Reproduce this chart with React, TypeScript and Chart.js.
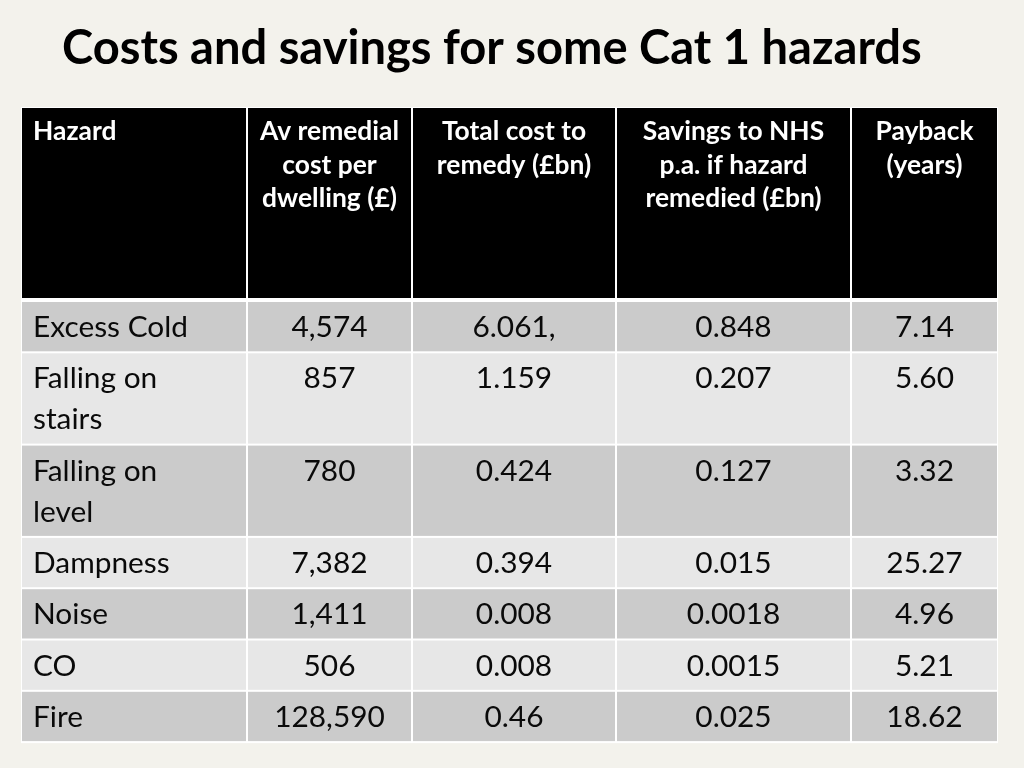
import React, { useEffect, useRef } from "react";
import { Chart, registerables } from "chart.js";

Chart.register(...registerables);

const title = "Costs and savings for some Cat 1 hazards";
const headers = [
  "Hazard",
  "Av remedial\ncost per\ndwelling (£)",
  "Total cost to\nremedy (£bn)",
  "Savings to NHS\np.a. if hazard\nremedied (£bn)",
  "Payback\n(years)",
];
const hazards = [
  "Excess Cold",
  "Falling on stairs",
  "Falling on level",
  "Dampness",
  "Noise",
  "CO",
  "Fire",
];
const avRemedialCost = ["4,574", "857", "780", "7,382", "1,411", "506", "128,590"];
const totalCost = ["6.061,", "1.159", "0.424", "0.394", "0.008", "0.008", "0.46"];
const nhsSavings = ["0.848", "0.207", "0.127", "0.015", "0.0018", "0.0015", "0.025"];
const payback = ["7.14", "5.60", "3.32", "25.27", "4.96", "5.21", "18.62"];

const FONT = "Lato, 'Open Sans', 'DejaVu Sans', sans-serif";
const BG = "#f3f2ec";
const colEdges = [22, 247, 412, 616, 851, 997];
const tableTop = 107;
const headerBottom = 300;

function fitSize(ctx: CanvasRenderingContext2D, text: string, weight: string, target: number) {
  ctx.font = `${weight} 100px ${FONT}`;
  const w = ctx.measureText(text).width;
  return (100 * target) / w;
}

function wrap(ctx: CanvasRenderingContext2D, text: string, maxW: number) {
  const words = text.split(" ");
  const lines: string[] = [];
  let cur = "";
  for (const w of words) {
    const t = cur ? cur + " " + w : w;
    if (cur && ctx.measureText(t).width > maxW) {
      lines.push(cur);
      cur = w;
    } else cur = t;
  }
  if (cur) lines.push(cur);
  return lines;
}

const tablePlugin = {
  id: "tablePlugin",
  afterDraw(chart: any) {
    const ctx: CanvasRenderingContext2D = chart.ctx;
    const ox = chart.chartArea.left;
    const oy = chart.chartArea.top;
    ctx.save();
    ctx.translate(ox, oy);

    // title
    const ts = fitSize(ctx, title, "bold", 860);
    ctx.font = `bold ${ts}px ${FONT}`;
    ctx.fillStyle = "#000";
    ctx.textBaseline = "alphabetic";
    ctx.textAlign = "left";
    ctx.fillText(title, 62, 64);

    const hs = fitSize(ctx, "Av remedial", "bold", 139);
    const bs = fitSize(ctx, "Excess Cold", "normal", 155);

    // rows
    ctx.font = `${bs}px ${FONT}`;
    const cols = [hazards, avRemedialCost, totalCost, nhsSavings, payback];
    const hazardLines = hazards.map((h) => wrap(ctx, h, 180));
    const rowH = hazardLines.map((l) => 10.3 + 41 * l.length);
    const tableBottom = headerBottom + 1 + rowH.reduce((a, b) => a + b, 0);

    // white background of grid
    ctx.fillStyle = "#ffffff";
    ctx.fillRect(colEdges[0] - 1, tableTop, colEdges[5] - colEdges[0] + 2, tableBottom - tableTop + 1);

    // header
    for (let c = 0; c < 5; c++) {
      const x0 = colEdges[c] + (c === 0 ? 0 : 1);
      const x1 = colEdges[c + 1] - (c === 4 ? 0 : 1);
      ctx.fillStyle = "#000000";
      ctx.fillRect(x0, tableTop + 1, x1 - x0, headerBottom - 2 - (tableTop + 1));
      ctx.fillStyle = "#ffffff";
      ctx.font = `bold ${hs}px ${FONT}`;
      const lines = headers[c].split("\n");
      lines.forEach((ln, i) => {
        const y = 140 + i * 33.5;
        if (c === 0) {
          ctx.textAlign = "left";
          ctx.fillText(ln, x0 + 11, y);
        } else {
          ctx.textAlign = "center";
          ctx.fillText(ln, (x0 + x1) / 2, y);
        }
      });
    }

    // body
    let y = headerBottom + 1;
    for (let r = 0; r < hazards.length; r++) {
      const h = rowH[r];
      for (let c = 0; c < 5; c++) {
        const x0 = colEdges[c] + (c === 0 ? 0 : 1);
        const x1 = colEdges[c + 1] - (c === 4 ? 0 : 1);
        ctx.fillStyle = r % 2 === 0 ? "#cbcbcb" : "#e7e7e7";
        ctx.fillRect(x0, y + 1, x1 - x0, h - 2);
        ctx.fillStyle = "#0a0a0a";
        ctx.font = `${bs}px ${FONT}`;
        if (c === 0) {
          ctx.textAlign = "left";
          hazardLines[r].forEach((ln, i) => ctx.fillText(ln, x0 + 11, y + 36 + i * 41));
        } else {
          ctx.textAlign = "center";
          ctx.fillText(cols[c][r], (x0 + x1) / 2, y + 36);
        }
      }
      y += h;
    }
    ctx.restore();
  },
};

export default function App() {
  const ref = useRef<HTMLCanvasElement>(null);
  useEffect(() => {
    if (!ref.current) return;
    const chart = new Chart(ref.current, {
      type: "bar",
      data: { labels: hazards, datasets: [] },
      options: {
        responsive: false,
        animation: false,
        layout: { padding: 0 },
        plugins: { legend: { display: false }, tooltip: { enabled: false }, title: { display: false } },
        scales: { x: { display: false }, y: { display: false } },
      },
      plugins: [tablePlugin],
    });
    return () => chart.destroy();
  }, []);
  return (
    <div style={{ position: "fixed", left: 0, top: 0, width: 1024, height: 768, background: BG }}>
      <canvas ref={ref} width={1024} height={768} style={{ width: 1024, height: 768, display: "block" }} />
    </div>
  );
}
